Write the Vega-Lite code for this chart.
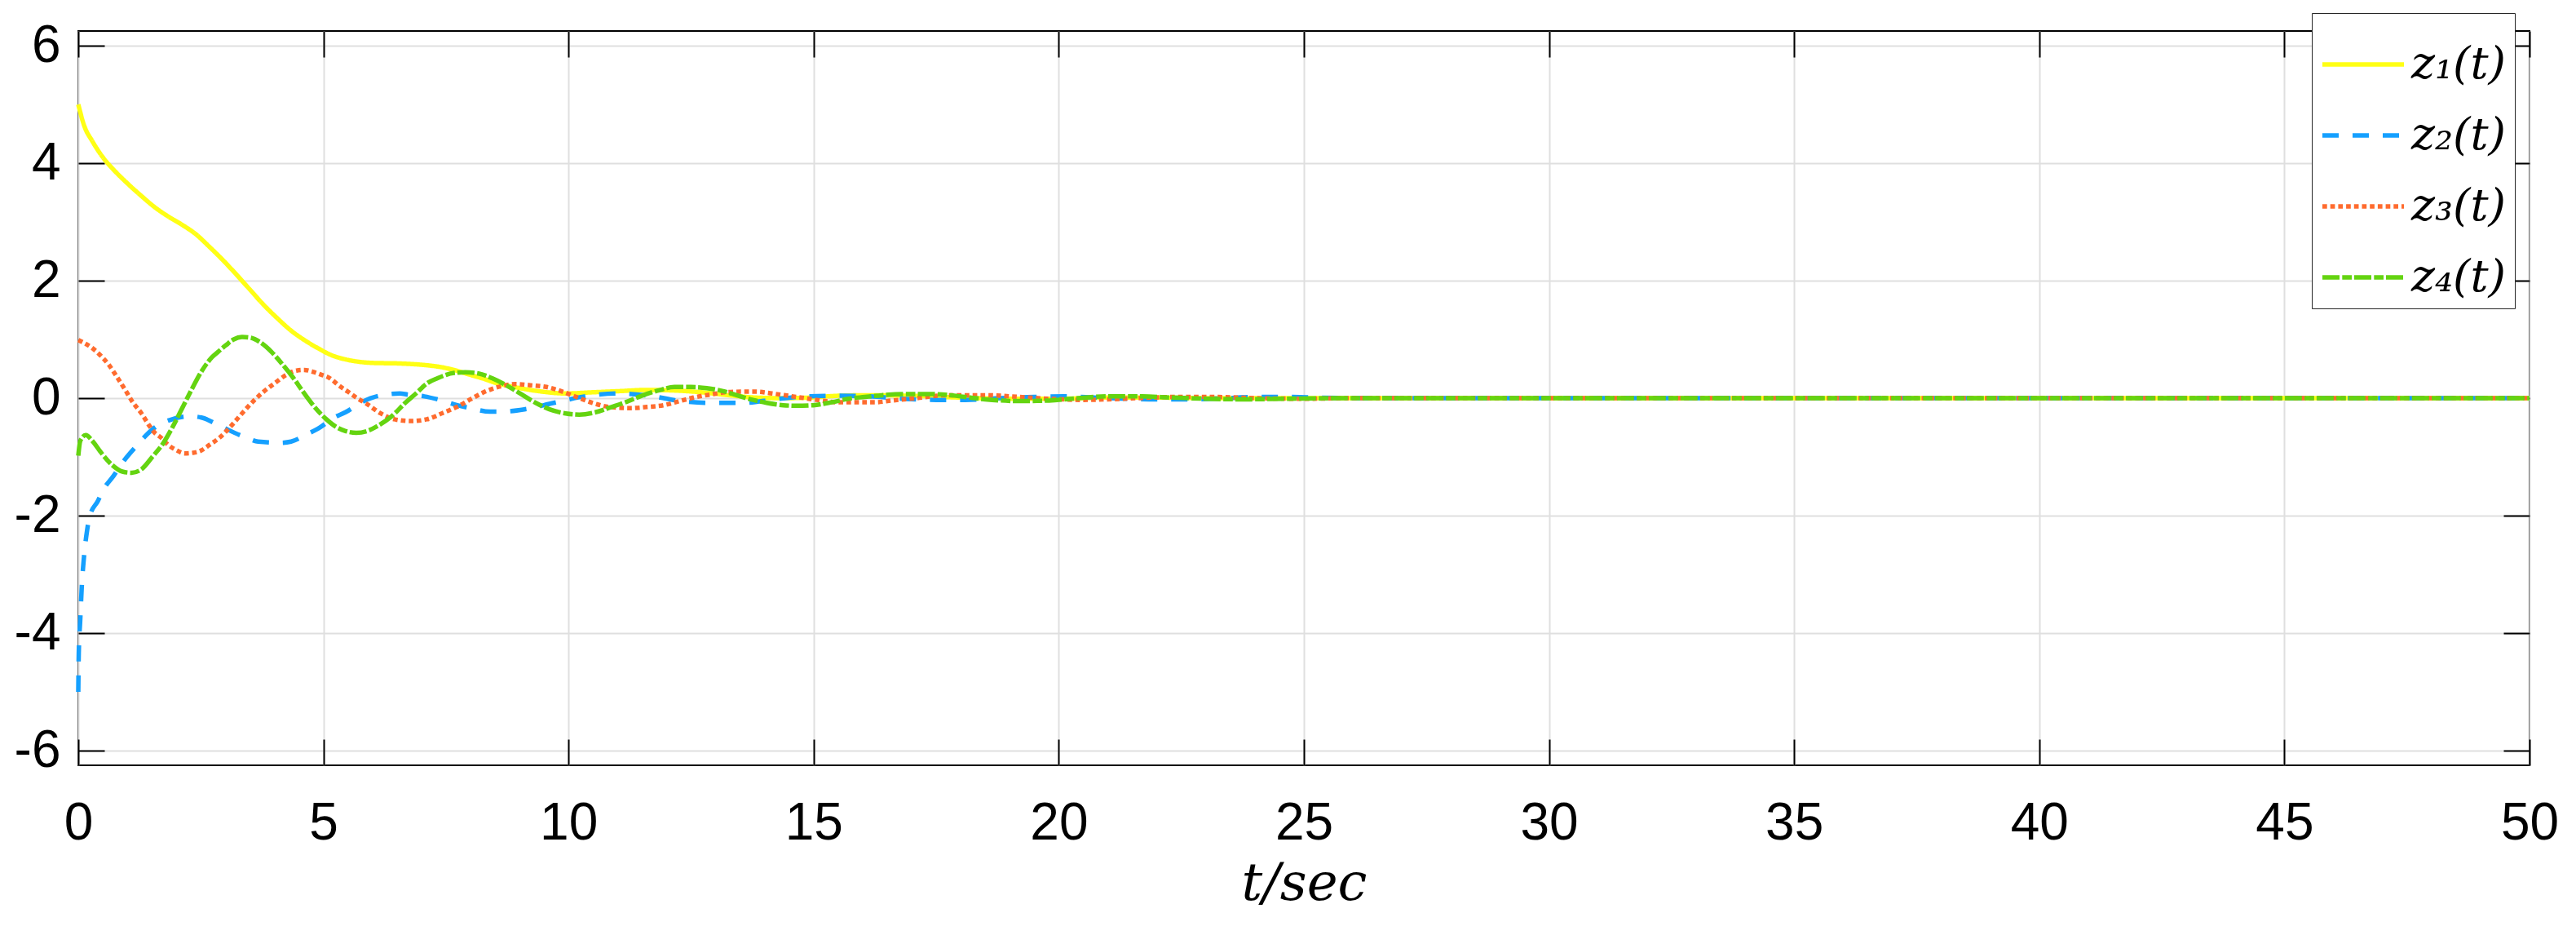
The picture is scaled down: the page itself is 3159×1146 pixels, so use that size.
{
  "$schema": "https://vega.github.io/schema/vega-lite/v6.json",
  "width": 3006,
  "height": 900,
  "autosize": {"type": "none"},
  "padding": {"left": 96, "top": 38, "right": 57, "bottom": 208},
  "background": "white",
  "config": {
    "view": {"stroke": "black", "strokeWidth": 2},
    "axis": {
      "labelFont": "Liberation Sans",
      "labelFontSize": 64,
      "labelColor": "black",
      "tickColor": "black",
      "tickWidth": 2,
      "tickSize": -32,
      "domain": false,
      "gridColor": "#dfdfdf",
      "gridWidth": 2,
      "labelFlush": false,
      "labelOverlap": false
    },
    "legend": {
      "strokeColor": "#262626",
      "fillColor": "white",
      "cornerRadius": 0,
      "padding": 10,
      "symbolType": "stroke",
      "symbolSize": 10000,
      "symbolStrokeWidth": 5.5,
      "labelFont": "DejaVu Serif",
      "labelFontStyle": "italic",
      "labelFontSize": 55,
      "labelColor": "black",
      "labelOffset": 6,
      "rowPadding": 6
    }
  },
  "datasets": {
    "z": [
      {"s":"z₁(t)","t":0,"v":5.0},{"s":"z₁(t)","t":0.12,"v":4.64},{"s":"z₁(t)","t":0.29,"v":4.37},{"s":"z₁(t)","t":0.51,"v":4.09},{"s":"z₁(t)","t":0.73,"v":3.88},{"s":"z₁(t)","t":1.01,"v":3.65},{"s":"z₁(t)","t":1.29,"v":3.44},{"s":"z₁(t)","t":1.56,"v":3.25},{"s":"z₁(t)","t":1.84,"v":3.09},{"s":"z₁(t)","t":2.12,"v":2.95},{"s":"z₁(t)","t":2.4,"v":2.79},{"s":"z₁(t)","t":2.67,"v":2.58},{"s":"z₁(t)","t":2.95,"v":2.35},{"s":"z₁(t)","t":3.23,"v":2.1},{"s":"z₁(t)","t":3.51,"v":1.84},{"s":"z₁(t)","t":3.78,"v":1.59},{"s":"z₁(t)","t":4.06,"v":1.36},{"s":"z₁(t)","t":4.34,"v":1.15},{"s":"z₁(t)","t":4.61,"v":0.99},{"s":"z₁(t)","t":4.89,"v":0.85},{"s":"z₁(t)","t":5.17,"v":0.73},{"s":"z₁(t)","t":5.45,"v":0.66},{"s":"z₁(t)","t":5.72,"v":0.62},{"s":"z₁(t)","t":6.0,"v":0.6},{"s":"z₁(t)","t":6.56,"v":0.59},{"s":"z₁(t)","t":7.11,"v":0.56},{"s":"z₁(t)","t":7.39,"v":0.53},{"s":"z₁(t)","t":7.66,"v":0.48},{"s":"z₁(t)","t":7.94,"v":0.41},{"s":"z₁(t)","t":8.27,"v":0.33},{"s":"z₁(t)","t":8.55,"v":0.25},{"s":"z₁(t)","t":8.83,"v":0.2},{"s":"z₁(t)","t":9.38,"v":0.12},{"s":"z₁(t)","t":9.94,"v":0.08},{"s":"z₁(t)","t":10.5,"v":0.1},{"s":"z₁(t)","t":11.05,"v":0.12},{"s":"z₁(t)","t":11.6,"v":0.14},{"s":"z₁(t)","t":12.16,"v":0.13},{"s":"z₁(t)","t":12.71,"v":0.1},{"s":"z₁(t)","t":13.27,"v":0.05},{"s":"z₁(t)","t":13.82,"v":0.01},{"s":"z₁(t)","t":14.38,"v":0.0},{"s":"z₁(t)","t":14.93,"v":0.01},{"s":"z₁(t)","t":15.49,"v":0.04},{"s":"z₁(t)","t":16.2,"v":0.05},{"s":"z₁(t)","t":17,"v":0.04},{"s":"z₁(t)","t":18,"v":0.01},{"s":"z₁(t)","t":19,"v":-0.01},{"s":"z₁(t)","t":20,"v":-0.01},{"s":"z₁(t)","t":21,"v":0.01},{"s":"z₁(t)","t":22,"v":0.01},{"s":"z₁(t)","t":23,"v":0.0},{"s":"z₁(t)","t":26,"v":0.0},{"s":"z₁(t)","t":30,"v":0.0},{"s":"z₁(t)","t":40,"v":0.0},{"s":"z₁(t)","t":50,"v":0.0},

      {"s":"z₂(t)","t":0,"v":-5.0},{"s":"z₂(t)","t":0.01,"v":-4.34},{"s":"z₂(t)","t":0.04,"v":-3.78},{"s":"z₂(t)","t":0.07,"v":-3.23},{"s":"z₂(t)","t":0.12,"v":-2.67},{"s":"z₂(t)","t":0.18,"v":-2.25},{"s":"z₂(t)","t":0.23,"v":-2.02},{"s":"z₂(t)","t":0.4,"v":-1.75},{"s":"z₂(t)","t":0.51,"v":-1.56},{"s":"z₂(t)","t":0.73,"v":-1.31},{"s":"z₂(t)","t":0.9,"v":-1.1},{"s":"z₂(t)","t":1.18,"v":-0.82},{"s":"z₂(t)","t":1.56,"v":-0.5},{"s":"z₂(t)","t":1.84,"v":-0.38},{"s":"z₂(t)","t":2.29,"v":-0.31},{"s":"z₂(t)","t":2.51,"v":-0.33},{"s":"z₂(t)","t":2.84,"v":-0.45},{"s":"z₂(t)","t":3.06,"v":-0.54},{"s":"z₂(t)","t":3.45,"v":-0.68},{"s":"z₂(t)","t":3.67,"v":-0.74},{"s":"z₂(t)","t":4.12,"v":-0.76},{"s":"z₂(t)","t":4.34,"v":-0.74},{"s":"z₂(t)","t":4.67,"v":-0.61},{"s":"z₂(t)","t":4.89,"v":-0.52},{"s":"z₂(t)","t":5.22,"v":-0.33},{"s":"z₂(t)","t":5.45,"v":-0.24},{"s":"z₂(t)","t":5.78,"v":-0.07},{"s":"z₂(t)","t":6.0,"v":0.01},{"s":"z₂(t)","t":6.56,"v":0.08},{"s":"z₂(t)","t":6.72,"v":0.06},{"s":"z₂(t)","t":7.06,"v":0.03},{"s":"z₂(t)","t":7.33,"v":-0.02},{"s":"z₂(t)","t":7.78,"v":-0.13},{"s":"z₂(t)","t":8.0,"v":-0.17},{"s":"z₂(t)","t":8.4,"v":-0.23},{"s":"z₂(t)","t":8.6,"v":-0.23},{"s":"z₂(t)","t":9.1,"v":-0.19},{"s":"z₂(t)","t":9.7,"v":-0.08},{"s":"z₂(t)","t":10.4,"v":0.04},{"s":"z₂(t)","t":11.0,"v":0.08},{"s":"z₂(t)","t":11.65,"v":0.04},{"s":"z₂(t)","t":12.3,"v":-0.05},{"s":"z₂(t)","t":12.9,"v":-0.08},{"s":"z₂(t)","t":13.6,"v":-0.08},{"s":"z₂(t)","t":14.2,"v":-0.02},{"s":"z₂(t)","t":14.85,"v":0.03},{"s":"z₂(t)","t":15.5,"v":0.04},{"s":"z₂(t)","t":16.15,"v":0.03},{"s":"z₂(t)","t":16.8,"v":-0.01},{"s":"z₂(t)","t":17.5,"v":-0.03},{"s":"z₂(t)","t":18.1,"v":-0.03},{"s":"z₂(t)","t":18.8,"v":0.0},{"s":"z₂(t)","t":19.5,"v":0.02},{"s":"z₂(t)","t":20.1,"v":0.03},{"s":"z₂(t)","t":21,"v":0.0},{"s":"z₂(t)","t":22,"v":-0.02},{"s":"z₂(t)","t":22.7,"v":-0.02},{"s":"z₂(t)","t":23.4,"v":0.0},{"s":"z₂(t)","t":24,"v":0.02},{"s":"z₂(t)","t":24.6,"v":0.02},{"s":"z₂(t)","t":26,"v":0.0},{"s":"z₂(t)","t":30,"v":0.0},{"s":"z₂(t)","t":40,"v":0.0},{"s":"z₂(t)","t":50,"v":0.0},

      {"s":"z₃(t)","t":0,"v":0.99},{"s":"z₃(t)","t":0.12,"v":0.94},{"s":"z₃(t)","t":0.29,"v":0.85},{"s":"z₃(t)","t":0.45,"v":0.73},{"s":"z₃(t)","t":0.62,"v":0.57},{"s":"z₃(t)","t":0.79,"v":0.36},{"s":"z₃(t)","t":0.95,"v":0.15},{"s":"z₃(t)","t":1.12,"v":-0.08},{"s":"z₃(t)","t":1.29,"v":-0.26},{"s":"z₃(t)","t":1.45,"v":-0.47},{"s":"z₃(t)","t":1.56,"v":-0.59},{"s":"z₃(t)","t":1.67,"v":-0.66},{"s":"z₃(t)","t":1.84,"v":-0.8},{"s":"z₃(t)","t":2.01,"v":-0.89},{"s":"z₃(t)","t":2.17,"v":-0.94},{"s":"z₃(t)","t":2.34,"v":-0.93},{"s":"z₃(t)","t":2.51,"v":-0.89},{"s":"z₃(t)","t":2.67,"v":-0.8},{"s":"z₃(t)","t":2.9,"v":-0.66},{"s":"z₃(t)","t":3.12,"v":-0.47},{"s":"z₃(t)","t":3.34,"v":-0.26},{"s":"z₃(t)","t":3.56,"v":-0.06},{"s":"z₃(t)","t":3.78,"v":0.11},{"s":"z₃(t)","t":4.0,"v":0.25},{"s":"z₃(t)","t":4.23,"v":0.39},{"s":"z₃(t)","t":4.45,"v":0.47},{"s":"z₃(t)","t":4.61,"v":0.48},{"s":"z₃(t)","t":4.78,"v":0.45},{"s":"z₃(t)","t":4.95,"v":0.4},{"s":"z₃(t)","t":5.11,"v":0.35},{"s":"z₃(t)","t":5.34,"v":0.2},{"s":"z₃(t)","t":5.5,"v":0.11},{"s":"z₃(t)","t":5.67,"v":0.01},{"s":"z₃(t)","t":5.89,"v":-0.1},{"s":"z₃(t)","t":6.17,"v":-0.26},{"s":"z₃(t)","t":6.45,"v":-0.36},{"s":"z₃(t)","t":6.78,"v":-0.39},{"s":"z₃(t)","t":7.11,"v":-0.36},{"s":"z₃(t)","t":7.44,"v":-0.25},{"s":"z₃(t)","t":7.72,"v":-0.15},{"s":"z₃(t)","t":8.0,"v":-0.02},{"s":"z₃(t)","t":8.27,"v":0.1},{"s":"z₃(t)","t":8.61,"v":0.2},{"s":"z₃(t)","t":8.91,"v":0.24},{"s":"z₃(t)","t":9.22,"v":0.22},{"s":"z₃(t)","t":9.55,"v":0.19},{"s":"z₃(t)","t":9.88,"v":0.11},{"s":"z₃(t)","t":10.16,"v":0.02},{"s":"z₃(t)","t":10.49,"v":-0.08},{"s":"z₃(t)","t":10.83,"v":-0.15},{"s":"z₃(t)","t":11.27,"v":-0.17},{"s":"z₃(t)","t":11.6,"v":-0.15},{"s":"z₃(t)","t":11.94,"v":-0.12},{"s":"z₃(t)","t":12.27,"v":-0.05},{"s":"z₃(t)","t":12.55,"v":0.01},{"s":"z₃(t)","t":12.88,"v":0.06},{"s":"z₃(t)","t":13.21,"v":0.1},{"s":"z₃(t)","t":13.54,"v":0.11},{"s":"z₃(t)","t":13.82,"v":0.11},{"s":"z₃(t)","t":14.15,"v":0.08},{"s":"z₃(t)","t":14.49,"v":0.04},{"s":"z₃(t)","t":14.82,"v":0.0},{"s":"z₃(t)","t":15.15,"v":-0.04},{"s":"z₃(t)","t":15.49,"v":-0.07},{"s":"z₃(t)","t":15.93,"v":-0.07},{"s":"z₃(t)","t":16.26,"v":-0.07},{"s":"z₃(t)","t":16.6,"v":-0.04},{"s":"z₃(t)","t":17.1,"v":0.0},{"s":"z₃(t)","t":17.7,"v":0.05},{"s":"z₃(t)","t":18.5,"v":0.05},{"s":"z₃(t)","t":19.2,"v":0.02},{"s":"z₃(t)","t":19.8,"v":-0.01},{"s":"z₃(t)","t":20.5,"v":-0.03},{"s":"z₃(t)","t":21.0,"v":-0.02},{"s":"z₃(t)","t":21.6,"v":0.0},{"s":"z₃(t)","t":22.4,"v":0.02},{"s":"z₃(t)","t":23.2,"v":0.02},{"s":"z₃(t)","t":24,"v":0.0},{"s":"z₃(t)","t":25,"v":-0.01},{"s":"z₃(t)","t":26,"v":0.0},{"s":"z₃(t)","t":30,"v":0.0},{"s":"z₃(t)","t":40,"v":0.0},{"s":"z₃(t)","t":50,"v":0.0},

      {"s":"z₄(t)","t":0,"v":-0.98},{"s":"z₄(t)","t":0.04,"v":-0.73},{"s":"z₄(t)","t":0.15,"v":-0.63},{"s":"z₄(t)","t":0.29,"v":-0.73},{"s":"z₄(t)","t":0.45,"v":-0.91},{"s":"z₄(t)","t":0.68,"v":-1.13},{"s":"z₄(t)","t":0.9,"v":-1.25},{"s":"z₄(t)","t":1.09,"v":-1.27},{"s":"z₄(t)","t":1.29,"v":-1.21},{"s":"z₄(t)","t":1.51,"v":-1.0},{"s":"z₄(t)","t":1.73,"v":-0.77},{"s":"z₄(t)","t":1.95,"v":-0.45},{"s":"z₄(t)","t":2.12,"v":-0.17},{"s":"z₄(t)","t":2.29,"v":0.11},{"s":"z₄(t)","t":2.51,"v":0.45},{"s":"z₄(t)","t":2.73,"v":0.7},{"s":"z₄(t)","t":2.84,"v":0.78},{"s":"z₄(t)","t":3.01,"v":0.9},{"s":"z₄(t)","t":3.17,"v":1.0},{"s":"z₄(t)","t":3.34,"v":1.04},{"s":"z₄(t)","t":3.51,"v":1.03},{"s":"z₄(t)","t":3.73,"v":0.94},{"s":"z₄(t)","t":3.95,"v":0.78},{"s":"z₄(t)","t":4.17,"v":0.57},{"s":"z₄(t)","t":4.39,"v":0.34},{"s":"z₄(t)","t":4.61,"v":0.08},{"s":"z₄(t)","t":4.84,"v":-0.17},{"s":"z₄(t)","t":5.06,"v":-0.36},{"s":"z₄(t)","t":5.28,"v":-0.5},{"s":"z₄(t)","t":5.45,"v":-0.56},{"s":"z₄(t)","t":5.67,"v":-0.59},{"s":"z₄(t)","t":5.89,"v":-0.56},{"s":"z₄(t)","t":6.11,"v":-0.47},{"s":"z₄(t)","t":6.39,"v":-0.31},{"s":"z₄(t)","t":6.67,"v":-0.08},{"s":"z₄(t)","t":6.89,"v":0.08},{"s":"z₄(t)","t":7.11,"v":0.25},{"s":"z₄(t)","t":7.33,"v":0.34},{"s":"z₄(t)","t":7.67,"v":0.43},{"s":"z₄(t)","t":7.89,"v":0.44},{"s":"z₄(t)","t":8.16,"v":0.42},{"s":"z₄(t)","t":8.44,"v":0.34},{"s":"z₄(t)","t":8.77,"v":0.2},{"s":"z₄(t)","t":9.05,"v":0.06},{"s":"z₄(t)","t":9.33,"v":-0.08},{"s":"z₄(t)","t":9.61,"v":-0.19},{"s":"z₄(t)","t":9.94,"v":-0.26},{"s":"z₄(t)","t":10.22,"v":-0.28},{"s":"z₄(t)","t":10.55,"v":-0.24},{"s":"z₄(t)","t":10.88,"v":-0.15},{"s":"z₄(t)","t":11.16,"v":-0.07},{"s":"z₄(t)","t":11.49,"v":0.04},{"s":"z₄(t)","t":11.83,"v":0.13},{"s":"z₄(t)","t":12.16,"v":0.19},{"s":"z₄(t)","t":12.49,"v":0.19},{"s":"z₄(t)","t":12.82,"v":0.17},{"s":"z₄(t)","t":13.15,"v":0.12},{"s":"z₄(t)","t":13.43,"v":0.05},{"s":"z₄(t)","t":13.71,"v":-0.02},{"s":"z₄(t)","t":14.04,"v":-0.08},{"s":"z₄(t)","t":14.38,"v":-0.12},{"s":"z₄(t)","t":14.65,"v":-0.13},{"s":"z₄(t)","t":14.99,"v":-0.12},{"s":"z₄(t)","t":15.37,"v":-0.07},{"s":"z₄(t)","t":15.71,"v":-0.01},{"s":"z₄(t)","t":16.04,"v":0.02},{"s":"z₄(t)","t":16.4,"v":0.05},{"s":"z₄(t)","t":16.9,"v":0.07},{"s":"z₄(t)","t":17.4,"v":0.07},{"s":"z₄(t)","t":17.9,"v":0.04},{"s":"z₄(t)","t":18.5,"v":-0.02},{"s":"z₄(t)","t":19.2,"v":-0.05},{"s":"z₄(t)","t":19.8,"v":-0.04},{"s":"z₄(t)","t":20.4,"v":0.0},{"s":"z₄(t)","t":21.0,"v":0.03},{"s":"z₄(t)","t":21.7,"v":0.03},{"s":"z₄(t)","t":22.3,"v":0.01},{"s":"z₄(t)","t":23.0,"v":-0.01},{"s":"z₄(t)","t":23.8,"v":-0.02},{"s":"z₄(t)","t":24.6,"v":-0.01},{"s":"z₄(t)","t":26,"v":0.0},{"s":"z₄(t)","t":30,"v":0.0},{"s":"z₄(t)","t":40,"v":0.0},{"s":"z₄(t)","t":50,"v":0.0}
    ]
  },
  "data": {"name": "z"},
  "layer": [
    {
      "mark": {"type": "line", "strokeWidth": 5.5, "interpolate": "monotone", "strokeCap": "butt"},
      "encoding": {
        "x": {
          "field": "t", "type": "quantitative",
          "scale": {"domain": [0, 50], "nice": false, "zero": false},
          "axis": {
            "orient": "bottom",
            "values": [0, 5, 10, 15, 20, 25, 30, 35, 40, 45, 50],
            "labelPadding": 71,
            "grid": true,
            "title": "t/sec",
            "titleFont": "DejaVu Serif",
            "titleFontStyle": "italic",
            "titleFontWeight": "normal",
            "titleFontSize": 64,
            "titleColor": "black",
            "titleBaseline": "alphabetic",
            "titleY": 164
          }
        },
        "y": {
          "field": "v", "type": "quantitative",
          "scale": {"domain": [-6.25, 6.25], "nice": false, "zero": false},
          "axis": {
            "orient": "left",
            "values": [-6, -4, -2, 0, 2, 4, 6],
            "labelExpr": "'' + datum.value",
            "labelPadding": 54,
            "grid": true,
            "title": null
          }
        },
        "color": {
          "field": "s", "type": "nominal",
          "scale": {"domain": ["z₁(t)", "z₂(t)", "z₃(t)", "z₄(t)"], "range": ["#FFFF14", "#15A0FF", "#FF6B2E", "#64D410"]},
          "legend": {"title": null, "orient": "none", "legendX": 2739, "legendY": -22}
        },
        "strokeDash": {
          "field": "s", "type": "nominal",
          "scale": {"domain": ["z₁(t)", "z₂(t)", "z₃(t)", "z₄(t)"], "range": [[1, 0], [20, 17], [5.7, 4], [21, 3.3, 11.7, 3]]},
          "legend": {"title": null, "orient": "none", "legendX": 2739, "legendY": -22}
        }
      }
    },
    {
      "mark": {"type": "line", "opacity": 0},
      "encoding": {
        "x": {
          "field": "t", "type": "quantitative",
          "axis": {"orient": "top", "values": [0, 5, 10, 15, 20, 25, 30, 35, 40, 45, 50], "labels": false, "grid": false, "title": null}
        },
        "y": {
          "field": "v", "type": "quantitative",
          "axis": {"orient": "right", "values": [-6, -4, -2, 0, 2, 4, 6], "labels": false, "grid": false, "title": null}
        },
        "detail": {"field": "s"}
      }
    }
  ],
  "resolve": {"axis": {"x": "independent", "y": "independent"}}
}
